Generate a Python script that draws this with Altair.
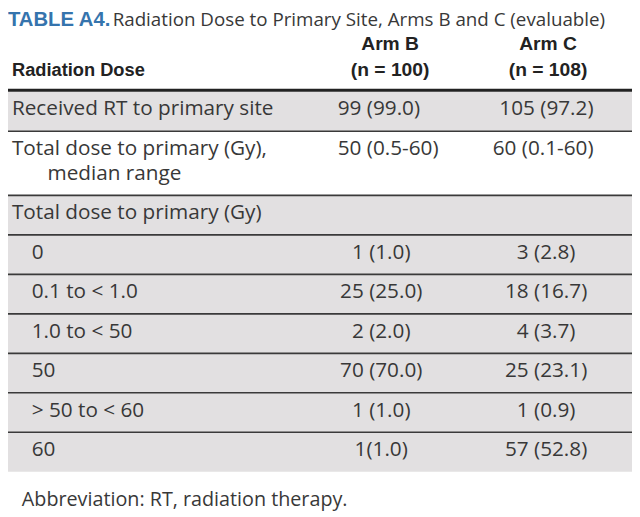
import altair as alt
import pandas as pd

# ---------------- data ----------------
title_tag = "TABLE A4."
title_text = "Radiation Dose to Primary Site, Arms B and C (evaluable)"
stub_header = "Radiation Dose"
arm_names = ["Arm B", "Arm C"]
arm_ns = ["(n = 100)", "(n = 108)"]
row_lines = [
    ["Received RT to primary site"],
    ["Total dose to primary (Gy),", "median range"],
    ["Total dose to primary (Gy)"],
    ["0"],
    ["0.1 to < 1.0"],
    ["1.0 to < 50"],
    ["50"],
    ["> 50 to < 60"],
    ["60"],
]
row_level = [0, 0, 0, 1, 1, 1, 1, 1, 1]
arm_b = ["99 (99.0)", "50 (0.5-60)", "", "1 (1.0)", "25 (25.0)", "2 (2.0)",
         "70 (70.0)", "1 (1.0)", "1(1.0)"]
arm_c = ["105 (97.2)", "60 (0.1-60)", "", "3 (2.8)", "18 (16.7)", "4 (3.7)",
         "25 (23.1)", "1 (0.9)", "57 (52.8)"]
footnote = "Abbreviation: RT, radiation therapy."

# ---------------- layout ----------------
W, H = 632, 509
X0, Y0 = 8, 8
XL, XR = X0, X0 + W
xs = alt.Scale(domain=[XL, XR], nice=False, zero=False)
ys = alt.Scale(domain=[Y0, Y0 + H], reverse=True, nice=False, zero=False)

BODY = "Open Sans"
BOLD = "Liberation Sans"
GREY = "#e2e0e1"
INK = "#383838"

header_bottom = 88
row_top0 = 89.5
line_gap = 25
single_h = 40
text_dy = 18
stub_x = [12, 32]
cont_x = 48
armb_left_x = 342
armb_center_x = 386
armc_right_x = 601
armc_center_x = 553
head_centers = [395, 555]

rects, rules, body_txt = [], [], []
b_l, b_c, c_r, c_c = [], [], [], []
top = row_top0
for i, lines in enumerate(row_lines):
    h = single_h + line_gap * (len(lines) - 1)
    if i != 1:
        rects.append({"x": XL, "x2": XR, "y": top, "y2": top + h})
    for j, ln in enumerate(lines):
        body_txt.append({"x": stub_x[row_level[i]] if j == 0 else cont_x,
                         "y": top + text_dy + j * line_gap, "t": ln})
    cy = top + text_dy
    if arm_b[i]:
        if row_level[i] == 0:
            b_l.append({"x": armb_left_x, "y": cy, "t": arm_b[i]})
        else:
            b_c.append({"x": armb_center_x, "y": cy, "t": arm_b[i]})
    if arm_c[i]:
        if row_level[i] == 0:
            c_r.append({"x": armc_right_x, "y": cy, "t": arm_c[i]})
        else:
            c_c.append({"x": armc_center_x, "y": cy, "t": arm_c[i]})
    top += h
    if i < len(row_lines) - 1:
        rules.append({"x": XL, "x2": XR, "y": top})

def X(f="x"):
    return alt.X(f"{f}:Q", scale=xs, axis=None)

def Y(f="y"):
    return alt.Y(f"{f}:Q", scale=ys, axis=None)

bg = alt.Chart(pd.DataFrame(rects)).mark_rect(color=GREY).encode(
    x=X(), x2="x2:Q", y=Y(), y2="y2:Q")

lines_c = alt.Chart(pd.DataFrame(rules)).mark_rule(color="#3a3a3a", strokeWidth=1.6).encode(
    x=X(), x2="x2:Q", y=Y())

head_rule = alt.Chart(pd.DataFrame([{"x": XL, "x2": XR, "y": header_bottom}])).mark_rule(
    color="#222222", strokeWidth=3.2).encode(x=X(), x2="x2:Q", y=Y())

def txt(rows, align="left", font=BODY, size=21, weight="normal", color=INK):
    return alt.Chart(pd.DataFrame(rows)).mark_text(
        align=align, baseline="middle", font=font, fontSize=size,
        fontWeight=weight, color=color).encode(x=X(), y=Y(), text="t:N")

title1 = txt([{"x": 8, "y": 17, "t": title_tag}], font=BOLD, size=20.5,
             weight="bold", color="#3574ad")
title2 = txt([{"x": 114, "y": 17, "t": title_text}], size=19, color=INK)

heads = txt([{"x": stub_x[0], "y": 68, "t": stub_header}], font=BOLD, size=18.5,
            weight="bold", color="#222222")
arm_heads = txt(
    [{"x": head_centers[k], "y": 41, "t": arm_names[k]} for k in range(2)]
    + [{"x": head_centers[k], "y": 68, "t": arm_ns[k]} for k in range(2)],
    align="center", font=BOLD, size=19.5, weight="bold", color="#222222")

body = txt(body_txt)
lay_bl = txt(b_l)
lay_bc = txt(b_c, align="center")
lay_cr = txt(c_r, align="right")
lay_cc = txt(c_c, align="center")
foot = txt([{"x": 22, "y": 503, "t": footnote}], size=20)

chart = alt.layer(bg, lines_c, head_rule, title1, title2, heads, arm_heads,
                  body, lay_bl, lay_bc, lay_cr, lay_cc, foot).properties(
    width=W, height=H, padding=0, autosize=alt.AutoSizeParams(type="none")
).configure_view(strokeWidth=0)

chart.save("out.html", embed_options={"renderer": "svg", "actions": False})
